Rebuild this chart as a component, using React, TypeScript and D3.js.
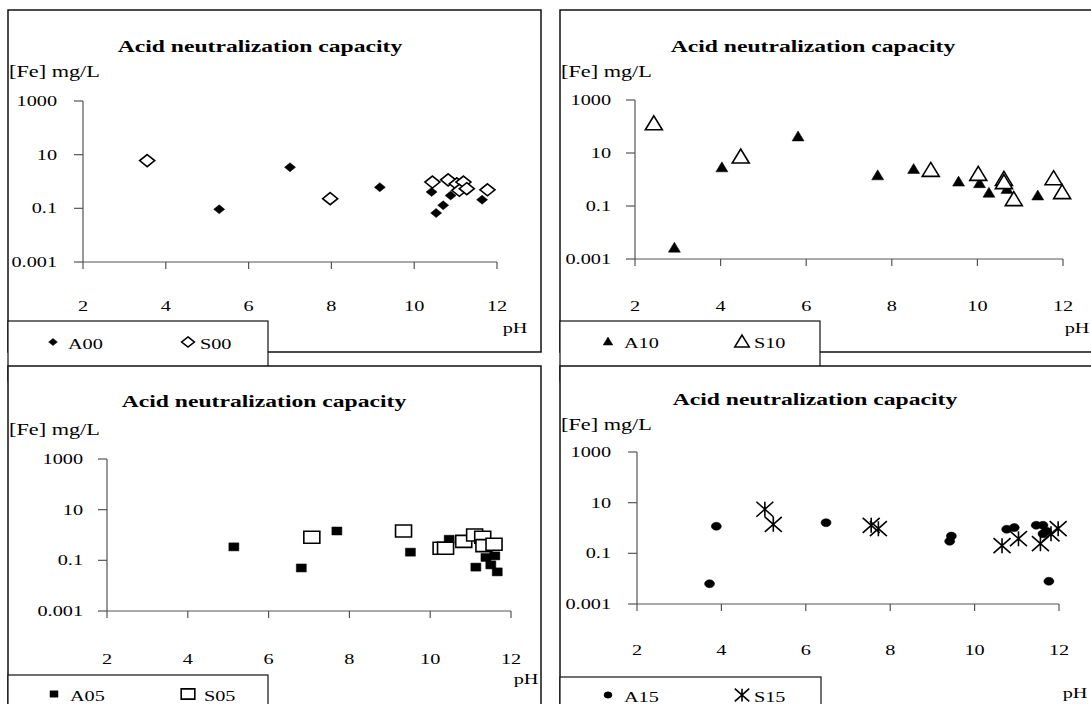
import * as d3 from 'd3'

const W = 1091
const H = 704
const SX = 1.35 // the scan is stretched sideways, text follows
const FONT = '"Liberation Serif", "Times New Roman", serif'

const xTicks = [2, 4, 6, 8, 10, 12]
const yTicks = [1000, 10, 0.1, 0.001]
const yTickLabels = ['1000', '10', '0.1', '0.001']

// A00 / S00
const a00pH = [5.29, 7.0, 9.17, 10.42, 10.53, 10.7, 10.88, 11.64]
const a00Fe = [0.092, 3.4, 0.61, 0.41, 0.067, 0.13, 0.3, 0.21]
const s00pH = [3.55, 7.97, 10.44, 10.82, 11.03, 11.19, 11.09, 11.27, 11.77]
const s00Fe = [6.0, 0.23, 0.95, 1.15, 0.82, 0.95, 0.47, 0.54, 0.49]

// A10 / S10
const a10pH = [2.92, 4.03, 5.81, 7.67, 8.51, 9.56, 10.05, 10.27, 10.69, 11.41]
const a10Fe = [0.0028, 3.0, 44, 1.5, 2.6, 0.87, 0.76, 0.33, 0.46, 0.26]
const s10pH = [2.44, 4.47, 8.91, 10.02, 10.62, 10.62, 10.85, 11.78, 11.98]
const s10Fe = [138, 7.7, 2.4, 1.7, 1.1, 0.83, 0.19, 1.17, 0.35]

// A05 / S05
const a05pH = [5.14, 6.81, 7.69, 9.51, 10.47, 11.13, 11.38, 11.6, 11.5, 11.66]
const a05Fe = [0.34, 0.05, 1.44, 0.21, 0.68, 0.054, 0.13, 0.15, 0.066, 0.035]
const s05pH = [7.07, 9.34, 10.27, 10.38, 10.83, 11.1, 11.3, 11.33, 11.58]
const s05Fe = [0.81, 1.44, 0.3, 0.3, 0.56, 1.0, 0.81, 0.38, 0.43]

// A15 / S15
const a15pH = [3.72, 3.88, 6.48, 9.41, 9.45, 10.76, 10.94, 11.46, 11.62, 11.62, 11.7, 11.76]
const a15Fe = [0.0063, 1.17, 1.62, 0.3, 0.48, 0.89, 1.04, 1.28, 1.28, 0.59, 0.75, 0.0079]
const s15pH = [5.03, 5.23, 7.55, 7.72, 10.65, 11.04, 11.56, 11.81, 11.98]
const s15Fe = [5.5, 1.4, 1.28, 0.94, 0.2, 0.38, 0.24, 0.59, 0.94]

type Kind = 'diamond' | 'triangle' | 'square' | 'circle' | 'star'

const zip = (xs: number[], ys: number[]) => xs.map((x, i) => ({ x, y: ys[i] }))

const panels = [
  {
    frame: [8, 10, 541, 352], plotX: [83, 497], plotY: [262, 101],
    titleX: 260, titleY: 52, labelX: 9, labelY: 77, tickRight: 57, xLabY: 311,
    phX: 515, phY: 333, legend: [8, 321, 268], legY: 342, legM: [53, 188], legT: [68, 200],
    kind: 'diamond' as Kind, names: ['A00', 'S00'],
    a: zip(a00pH, a00Fe), s: zip(s00pH, s00Fe)
  },
  {
    frame: [560, 10, 1100, 352], plotX: [635, 1063], plotY: [259, 100],
    titleX: 813, titleY: 52, labelX: 561, labelY: 77, tickRight: 611, xLabY: 311,
    phX: 1077, phY: 333, legend: [560, 321, 820], legY: 341, legM: [608, 742], legT: [624, 754],
    kind: 'triangle' as Kind, names: ['A10', 'S10'],
    a: zip(a10pH, a10Fe), s: zip(s10pH, s10Fe)
  },
  {
    frame: [8, 366, 541, 712], plotX: [107, 511], plotY: [611, 459],
    titleX: 264, titleY: 407, labelX: 9, labelY: 435, tickRight: 83, xLabY: 664,
    phX: 526, phY: 684, legend: [8, 675, 268], legY: 694, legM: [54, 188], legT: [70, 204],
    kind: 'square' as Kind, names: ['A05', 'S05'],
    a: zip(a05pH, a05Fe), s: zip(s05pH, s05Fe)
  },
  {
    frame: [560, 366, 1100, 712], plotX: [637, 1059], plotY: [604, 452],
    titleX: 815, titleY: 405, labelX: 561, labelY: 430, tickRight: 611, xLabY: 655,
    phX: 1075, phY: 698, legend: [560, 677, 821], legY: 695, legM: [608, 742], legT: [624, 754],
    kind: 'circle' as Kind, names: ['A15', 'S15'],
    a: zip(a15pH, a15Fe), s: zip(s15pH, s15Fe)
  }
]

// marker outline, w x h box centred on 0,0
function shape(kind: Kind, w: number, h: number) {
  const a = w / 2, b = h / 2
  switch (kind) {
    case 'diamond': return `M0,${-b}L${a},0L0,${b}L${-a},0Z`
    case 'triangle': return `M0,${-b}L${a},${b}L${-a},${b}Z`
    case 'square': return `M${-a},${-b}H${a}V${b}H${-a}Z`
    case 'circle': return `M${-a},0A${a},${b} 0 1,0 ${a},0A${a},${b} 0 1,0 ${-a},0Z`
    case 'star': return `M${-a},${-b}L${a},${b}M${a},${-b}L${-a},${b}M0,${-b}V${b}`
  }
}

// filled / open sizes per marker kind
const sizes: Record<Kind, number[][]> = {
  diamond: [[11, 9], [15, 12]],
  triangle: [[12, 10], [17, 14]],
  square: [[10, 8], [16, 12]],
  circle: [[10, 8], [10, 8]],
  star: [[17, 15], [17, 15]]
}

function Marker({ kind, open, x, y, scale = 1 }: { kind: Kind, open: boolean, x: number, y: number, scale?: number }) {
  // the S15 series uses the asterisk marker
  const k: Kind = open && kind === 'circle' ? 'star' : kind
  const [w, h] = sizes[k][open ? 1 : 0]
  return (
    <path
      d={shape(k, w * scale, h * scale)}
      transform={`translate(${x},${y})`}
      fill={open ? (k === 'star' ? 'none' : '#fff') : '#000'}
      stroke="#000"
      strokeWidth={open ? 1.6 : 0.5}
    />
  )
}

function SText({ x, y, anchor = 'start', size = 15, bold = false, children }: any) {
  return (
    <text
      transform={`translate(${x},${y}) scale(${SX},1)`}
      textAnchor={anchor}
      fontSize={size}
      fontWeight={bold ? 'bold' : 'normal'}
      fontFamily={FONT}
      fill="#000"
    >
      {children}
    </text>
  )
}

function Panel({ p }: { p: typeof panels[number] }) {
  const x = d3.scaleLinear().domain([2, 12]).range(p.plotX)
  const y = d3.scaleLog().domain([0.001, 1000]).range(p.plotY)
  const [fx0, fy0, fx1, fy1] = p.frame
  const [lx0, ly0, lx1] = p.legend
  const x0 = p.plotX[0]
  const yb = p.plotY[0]
  return (
    <g>
      <rect x={fx0} y={fy0} width={fx1 - fx0} height={fy1 - fy0} fill="#fff" stroke="#111" strokeWidth={1.5} />
      <SText x={p.titleX} y={p.titleY} anchor="middle" size={17.5} bold>Acid neutralization capacity</SText>
      <SText x={p.labelX} y={p.labelY} size={16.5}>[Fe] mg/L</SText>

      {/* axes */}
      <line x1={x0} x2={x0} y1={p.plotY[1]} y2={yb} stroke="#555" strokeWidth={1.2} />
      <line x1={x0} x2={p.plotX[1]} y1={yb} y2={yb} stroke="#555" strokeWidth={1.2} />
      {yTicks.map((t, i) => (
        <g key={t}>
          <line x1={x0 - 9} x2={x0} y1={y(t)} y2={y(t)} stroke="#555" strokeWidth={1.2} />
          <SText x={p.tickRight} y={y(t) + 5} anchor="end">{yTickLabels[i]}</SText>
        </g>
      ))}
      {xTicks.map(t => (
        <g key={t}>
          <line x1={x(t)} x2={x(t)} y1={yb} y2={yb + 7} stroke="#555" strokeWidth={1.2} />
          <SText x={x(t)} y={p.xLabY} anchor="middle">{t}</SText>
        </g>
      ))}
      <SText x={p.phX} y={p.phY} anchor="middle">pH</SText>

      {/* points */}
      {p.a.map((d, i) => <Marker key={'a' + i} kind={p.kind} open={false} x={x(d.x)} y={y(d.y)} />)}
      {p.s.map((d, i) => <Marker key={'s' + i} kind={p.kind} open={true} x={x(d.x)} y={y(d.y)} />)}

      {/* legend, cut by the page edge as in the scan */}
      <rect x={lx0} y={ly0} width={lx1 - lx0} height={60} fill="#fff" stroke="#111" strokeWidth={1.2} />
      <Marker kind={p.kind} open={false} x={p.legM[0]} y={p.legY} scale={0.8} />
      <SText x={p.legT[0]} y={p.legY + 7}>{p.names[0]}</SText>
      <Marker kind={p.kind} open={true} x={p.legM[1]} y={p.legY} scale={0.85} />
      <SText x={p.legT[1]} y={p.legY + 7}>{p.names[1]}</SText>
    </g>
  )
}

export default function App() {
  return (
    <svg width={W} height={H} style={{ position: 'absolute', left: 0, top: 0, background: '#fff' }}>
      <rect width={W} height={H} fill="#fff" />
      {panels.map((p, i) => <Panel key={i} p={p} />)}
    </svg>
  )
}
